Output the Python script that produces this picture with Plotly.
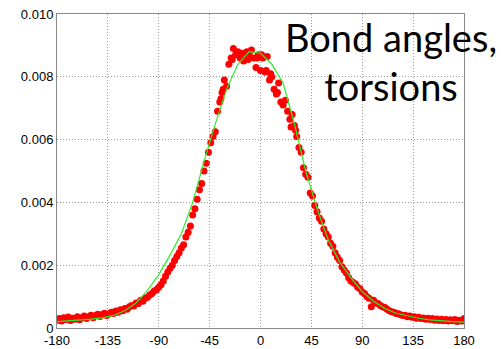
import plotly.graph_objects as go

# Fitted curve (green line)
curve_x = [-180, -170, -160, -150, -140, -130, -120, -110, -100, -90, -80, -70, -60, -50, -40,
           -30, -20, -10, 0, 10, 20, 30, 40, 50, 60, 70, 80, 90, 100, 110, 120, 130, 140, 150,
           160, 170, 180]
curve_y = [0.00020, 0.00022, 0.00025, 0.00028, 0.00032, 0.00040, 0.00055, 0.00080, 0.00120,
           0.00170, 0.00232, 0.00300, 0.00400, 0.00530, 0.00650, 0.00760, 0.00840, 0.00880,
           0.00875, 0.00840, 0.00780, 0.00650, 0.00500, 0.00380, 0.00280, 0.00210, 0.00160,
           0.00116, 0.00085, 0.00062, 0.00047, 0.00038, 0.00031, 0.00026, 0.00022, 0.00020,
           0.00019]

# Sampled distribution (red dots)
dot_x = [-180, -178, -176, -174, -172, -170, -168, -166, -164, -162, -160, -158, -156, -154,
         -152, -150, -148, -146, -144, -142, -140, -138, -136, -134, -132, -130, -128, -126,
         -124, -122, -120, -118, -116, -114, -112, -110, -108, -106, -104, -102, -100, -98,
         -96, -94, -92, -90, -88, -86, -84, -82, -80, -78, -76, -74, -72, -70, -68, -66, -64,
         -62, -60, -58, -56, -54, -52, -50, -48, -46, -44, -42, -40, -38, -36, -34, -32, -30,
         -28, -26, -24, -22, -20, -18, -16, -14, -12, -10, -8, -6, -4, -2, 0, 2, 4, 6, 8, 10,
         12, 14, 16, 18, 20, 22, 24, 26, 28, 30, 32, 34, 36, 38, 40, 42, 44, 46, 48, 50, 52,
         54, 56, 58, 60, 62, 64, 66, 68, 70, 72, 74, 76, 78, 80, 82, 84, 86, 88, 90, 92, 94,
         96, 98, 100, 102, 104, 106, 108, 110, 112, 114, 116, 118, 120, 122, 124, 126, 128,
         130, 132, 134, 136, 138, 140, 142, 144, 146, 148, 150, 152, 154, 156, 158, 160, 162,
         164, 166, 168, 170, 172, 174, 176, 178, 180,
         -25, -19, -15, -11, -3, 1, 5, 9, 15, -33, -35, 27, 31]
dot_y = [0.00025, 0.00030, 0.00022, 0.00033, 0.00027, 0.00035, 0.00024, 0.00031, 0.00028,
         0.00036, 0.00026, 0.00033, 0.00038, 0.00030, 0.00036, 0.00041, 0.00033, 0.00040,
         0.00044, 0.00037, 0.00043, 0.00047, 0.00040, 0.00045, 0.00050, 0.00046, 0.00054,
         0.00050, 0.00058, 0.00055, 0.00062, 0.00060, 0.00068, 0.00072, 0.00070, 0.00080,
         0.00078, 0.00088, 0.00085, 0.00095, 0.00098, 0.00105, 0.00110, 0.00118, 0.00122,
         0.00130, 0.00138, 0.00150, 0.00165, 0.00178, 0.00190, 0.00200, 0.00215, 0.00228,
         0.00240, 0.00255, 0.00265, 0.00290, 0.00305, 0.00325, 0.00360, 0.00380, 0.00410,
         0.00440, 0.00460, 0.00500, 0.00525, 0.00560, 0.00590, 0.00610, 0.00625, 0.00690,
         0.00720, 0.00750, 0.00790, 0.00770, 0.00840, 0.00860, 0.00890, 0.00870, 0.00880,
         0.00860, 0.00875, 0.00865, 0.00880, 0.00870, 0.00885, 0.00860, 0.00830, 0.00870,
         0.00820, 0.00860, 0.00815, 0.00865, 0.00790, 0.00800, 0.00760, 0.00745, 0.00780,
         0.00720, 0.00710, 0.00725, 0.00690, 0.00665, 0.00680, 0.00645, 0.00610, 0.00575,
         0.00560, 0.00510, 0.00490, 0.00480, 0.00430, 0.00420, 0.00390, 0.00370, 0.00350,
         0.00340, 0.00315, 0.00300, 0.00290, 0.00270, 0.00260, 0.00240, 0.00225, 0.00215,
         0.00195, 0.00185, 0.00175, 0.00160, 0.00150, 0.00145, 0.00140, 0.00130, 0.00125,
         0.00115, 0.00110, 0.00100, 0.00095, 0.00068, 0.00088, 0.00080, 0.00078, 0.00072,
         0.00068, 0.00065, 0.00060, 0.00055, 0.00052, 0.00050, 0.00046, 0.00045, 0.00042,
         0.00040, 0.00041, 0.00036, 0.00038, 0.00034, 0.00036, 0.00031, 0.00034, 0.00030,
         0.00032, 0.00028, 0.00031, 0.00027, 0.00030, 0.00025, 0.00029, 0.00024, 0.00028,
         0.00023, 0.00027, 0.00022, 0.00026, 0.00023, 0.00027, 0.00021, 0.00025, 0.00022,
         0.00030,
         0.00855, 0.00870, 0.00850, 0.00855, 0.00860, 0.00870, 0.00820, 0.00810, 0.00750,
         0.00760, 0.00730, 0.00640, 0.00630]

x_ticks = [-180, -135, -90, -45, 0, 45, 90, 135, 180]
x_labels = ["-180", "-135", "-90", "-45", "0", "45", "90", "135", "180"]
y_ticks = [0, 0.002, 0.004, 0.006, 0.008, 0.010]
y_labels = ["0", "0.002", "0.004", "0.006", "0.008", "0.010"]

fig = go.Figure()
fig.add_trace(go.Scatter(x=dot_x, y=dot_y, mode="markers",
                         marker=dict(color="#ff0000", size=7, line=dict(width=0)),
                         showlegend=False))
fig.add_trace(go.Scatter(x=curve_x, y=curve_y, mode="lines",
                         line=dict(color="#2bee2b", width=1.2), showlegend=False))

axis_common = dict(showline=True, mirror=True, linecolor="#888888", linewidth=1,
                   showgrid=True, gridcolor="#999999", griddash="1px,2px", gridwidth=1,
                   zeroline=False, ticks="", automargin=False,
                   tickfont=dict(family="Liberation Sans", size=13, color="#000000"))
fig.update_xaxes(range=[-180, 180], tickvals=x_ticks, ticktext=x_labels, **axis_common)
fig.update_yaxes(range=[0, 0.010], tickvals=y_ticks, ticktext=y_labels, **axis_common)

fig.add_annotation(text="Bond angles,<br>torsions", xref="paper", yref="paper",
                   x=0.82, y=0.85, xanchor="center", yanchor="middle", showarrow=False,
                   align="center", font=dict(family="Lato", size=38, color="#000000"))

fig.update_layout(width=501, height=349, margin=dict(l=57, r=37, t=14, b=21, autoexpand=False),
                  plot_bgcolor="white", paper_bgcolor="white")
fig.write_html("out.html", config={"displayModeBar": False},
               post_script="document.body.style.margin='0';document.body.style.overflow='hidden';")
